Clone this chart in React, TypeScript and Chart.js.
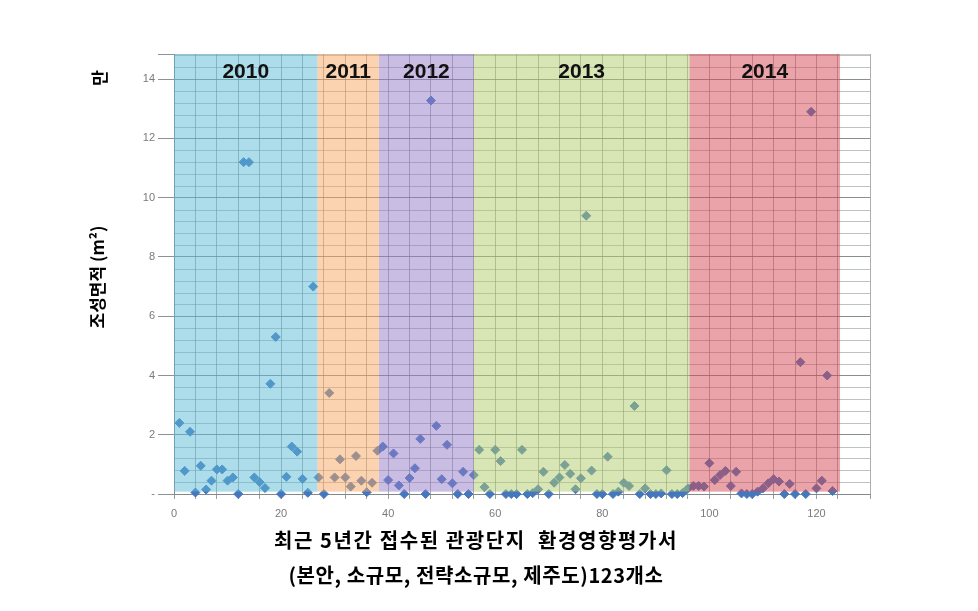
import React, { useEffect, useRef } from 'react';
import { Chart, registerables } from 'chart.js';

Chart.register(...registerables);

// 123 sites, x = site order (1..123), y = area
const siteValues: number[] = [
  2.4, 0.78, 2.1, 0.05, 0.95, 0.15, 0.45, 0.83, 0.83, 0.45,
  0.56, 0, 11.2, 11.2, 0.56, 0.4, 0.2, 3.72, 5.3, 0,
  0.58, 1.6, 1.43, 0.51, 0.04, 7.0, 0.56, 0, 3.41, 0.56,
  1.17, 0.56, 0.25, 1.28, 0.45, 0.06, 0.38, 1.46, 1.6, 0.47,
  1.37, 0.29, 0, 0.54, 0.87, 1.86, 0, 13.28, 2.3, 0.5,
  1.66, 0.36, 0, 0.75, 0, 0.64, 1.49, 0.23, 0, 1.49,
  1.11, 0, 0, 0, 1.49, 0, 0.03, 0.16, 0.75, 0,
  0.38, 0.56, 0.98, 0.68, 0.16, 0.53, 9.39, 0.79, 0, 0,
  1.26, 0, 0.08, 0.38, 0.27, 2.97, 0, 0.19, 0, 0,
  0.02, 0.8, 0, 0, 0.03, 0.19, 0.27, 0.27, 0.25, 1.04,
  0.47, 0.64, 0.78, 0.27, 0.75, 0.02, 0, 0, 0.08, 0.19,
  0.36, 0.5, 0.42, 0, 0.34, 0, 4.45, 0, 12.9, 0.19,
  0.45, 4.0, 0.1,
];

const xTickLabels: number[] = [0, 20, 40, 60, 80, 100, 120];
const yTickLabels: number[] = [0, 2, 4, 6, 8, 10, 12, 14];

const bandYears: string[] = ['2010', '2011', '2012', '2013', '2014'];
const bandStart: number[] = [0, 26.8, 38.3, 56.0, 96.3];
const bandEnd: number[] = [26.8, 38.3, 56.0, 96.3, 124.4];
const bandColors: string[] = [
  'rgba(92,186,214,0.5)',
  'rgba(248,168,98,0.5)',
  'rgba(148,124,200,0.5)',
  'rgba(178,204,108,0.5)',
  'rgba(212,72,84,0.5)',
];

const yTitle = '조성면적 (m²)';
const yUnit = '만';
const xTitleLines: string[] = [
  '최근 5년간 접수된 관광단지  환경영향평가서',
  '(본안, 소규모, 전략소규모, 제주도)123개소',
];

export default function App() {
  const ref = useRef<HTMLCanvasElement>(null);

  useEffect(() => {
    const canvas = ref.current;
    if (!canvas) return;

    const overlay = {
      id: 'overlay',
      beforeDraw(chart: any) {
        const ctx = chart.ctx;
        ctx.save();
        ctx.fillStyle = '#ffffff';
        ctx.fillRect(0, 0, chart.width, chart.height);
        ctx.restore();
      },
      beforeDatasetsDraw(chart: any) {
        const ctx = chart.ctx;
        const ys = chart.scales.y;
        const area = chart.chartArea;
        ctx.save();
        ctx.strokeStyle = 'rgba(110,120,120,0.45)';
        ctx.lineWidth = 1;
        for (let k = 1; k * 0.4 < ys.max; k++) {
          if (k % 5 === 0) continue;
          const py = Math.round(ys.getPixelForValue(k * 0.4)) + 0.5;
          ctx.beginPath();
          ctx.moveTo(area.left, py);
          ctx.lineTo(area.right, py);
          ctx.stroke();
        }
        ctx.restore();
      },
      afterDatasetsDraw(chart: any) {
        const ctx = chart.ctx;
        const xs = chart.scales.x;
        const ys = chart.scales.y;
        const area = chart.chartArea;
        ctx.save();
        const yb = ys.getPixelForValue(0.08);
        bandYears.forEach((yr, i) => {
          const x0 = xs.getPixelForValue(bandStart[i]);
          const x1 = xs.getPixelForValue(bandEnd[i]);
          ctx.fillStyle = bandColors[i];
          ctx.fillRect(x0, area.top, x1 - x0, yb - area.top);
        });
        ctx.fillStyle = '#111111';
        ctx.font = 'bold 21px "Liberation Sans", Arial, sans-serif';
        ctx.textAlign = 'center';
        ctx.textBaseline = 'middle';
        bandYears.forEach((yr, i) => {
          const cx = xs.getPixelForValue((bandStart[i] + bandEnd[i]) / 2);
          ctx.fillText(yr, cx, area.top + 18);
        });
        ctx.restore();
      },
      afterDraw(chart: any) {
        const ctx = chart.ctx;
        ctx.save();
        ctx.fillStyle = '#000000';
        ctx.textAlign = 'center';
        ctx.textBaseline = 'middle';
        // y title
        ctx.save();
        ctx.translate(98, 277);
        ctx.rotate(-Math.PI / 2);
        ctx.font = 'bold 17px "Noto Sans CJK KR", sans-serif';
        ctx.fillText(yTitle, 0, 0);
        ctx.restore();
        ctx.save();
        ctx.translate(100, 78);
        ctx.rotate(-Math.PI / 2);
        ctx.font = 'bold 17px "Noto Sans CJK KR", sans-serif';
        ctx.fillText(yUnit, 0, 0);
        ctx.restore();
        // x title
        ctx.font = 'bold 20px "Noto Sans CJK KR", sans-serif';
        (ctx as any).letterSpacing = '1.6px';
        ctx.fillText(xTitleLines[0], 476, 540);
        (ctx as any).letterSpacing = '0.6px';
        ctx.fillText(xTitleLines[1], 476, 575);
        (ctx as any).letterSpacing = '0px';
        ctx.restore();
      },
    };

    const chart = new Chart(canvas, {
      type: 'scatter',
      data: {
        datasets: [
          {
            data: siteValues.map((v, i) => ({ x: i + 1, y: v })),
            pointStyle: 'rectRot',
            pointRadius: 4.5,
            pointHoverRadius: 4.5,
            backgroundColor: '#4577BC',
            borderColor: '#4577BC',
            borderWidth: 1,
            clip: false,
          } as any,
        ],
      },
      options: {
        responsive: false,
        animation: false,
        events: [],
        layout: { padding: { left: 0, top: 54, right: 108, bottom: 0 } },
        plugins: {
          legend: { display: false },
          tooltip: { enabled: false },
          title: { display: false },
        },
        scales: {
          x: {
            type: 'linear',
            min: 0,
            max: 130,
            afterFit(s: any) {
              s.height = 117;
            },
            ticks: {
              stepSize: 4,
              autoSkip: false,
              maxRotation: 0,
              padding: 8,
              color: '#7a7a7a',
              font: { family: '"Liberation Sans", Arial, sans-serif', size: 11 },
              callback: (v: any) => (xTickLabels.includes(Number(v)) ? String(v) : ''),
            },
            grid: {
              color: 'rgba(115,125,125,0.6)',
              tickColor: 'rgba(125,135,135,0.8)',
              tickLength: 5,
              lineWidth: 1,
            },
            border: { display: true, color: 'rgba(130,135,140,0.9)' },
          },
          y: {
            type: 'linear',
            min: 0,
            max: 14.85,
            afterFit(s: any) {
              s.width = 174;
            },
            ticks: {
              stepSize: 2,
              padding: 3,
              color: '#7a7a7a',
              font: { family: '"Liberation Sans", Arial, sans-serif', size: 11 },
              callback: (v: any) => {
                const n = Number(v);
                if (!yTickLabels.includes(n)) return '';
                return n === 0 ? '-' : String(n);
              },
            },
            grid: {
              color: (c: any) =>
                yTickLabels.includes(Number(c.tick && c.tick.value)) ? 'rgba(105,115,120,0.8)' : 'rgba(130,130,130,0.4)',
              tickColor: 'rgba(110,120,125,0.8)',
              tickLength: 16,
              lineWidth: 1,
            },
            border: { display: true, color: 'rgba(130,135,140,0.9)' },
          },
        },
      },
      plugins: [overlay],
    } as any);

    return () => chart.destroy();
  }, []);

  return (
    <div style={{ position: 'fixed', left: 0, top: 0, width: 978, height: 611, background: '#fff' }}>
      <canvas ref={ref} width={978} height={611} style={{ display: 'block', width: 978, height: 611 }} />
    </div>
  );
}
